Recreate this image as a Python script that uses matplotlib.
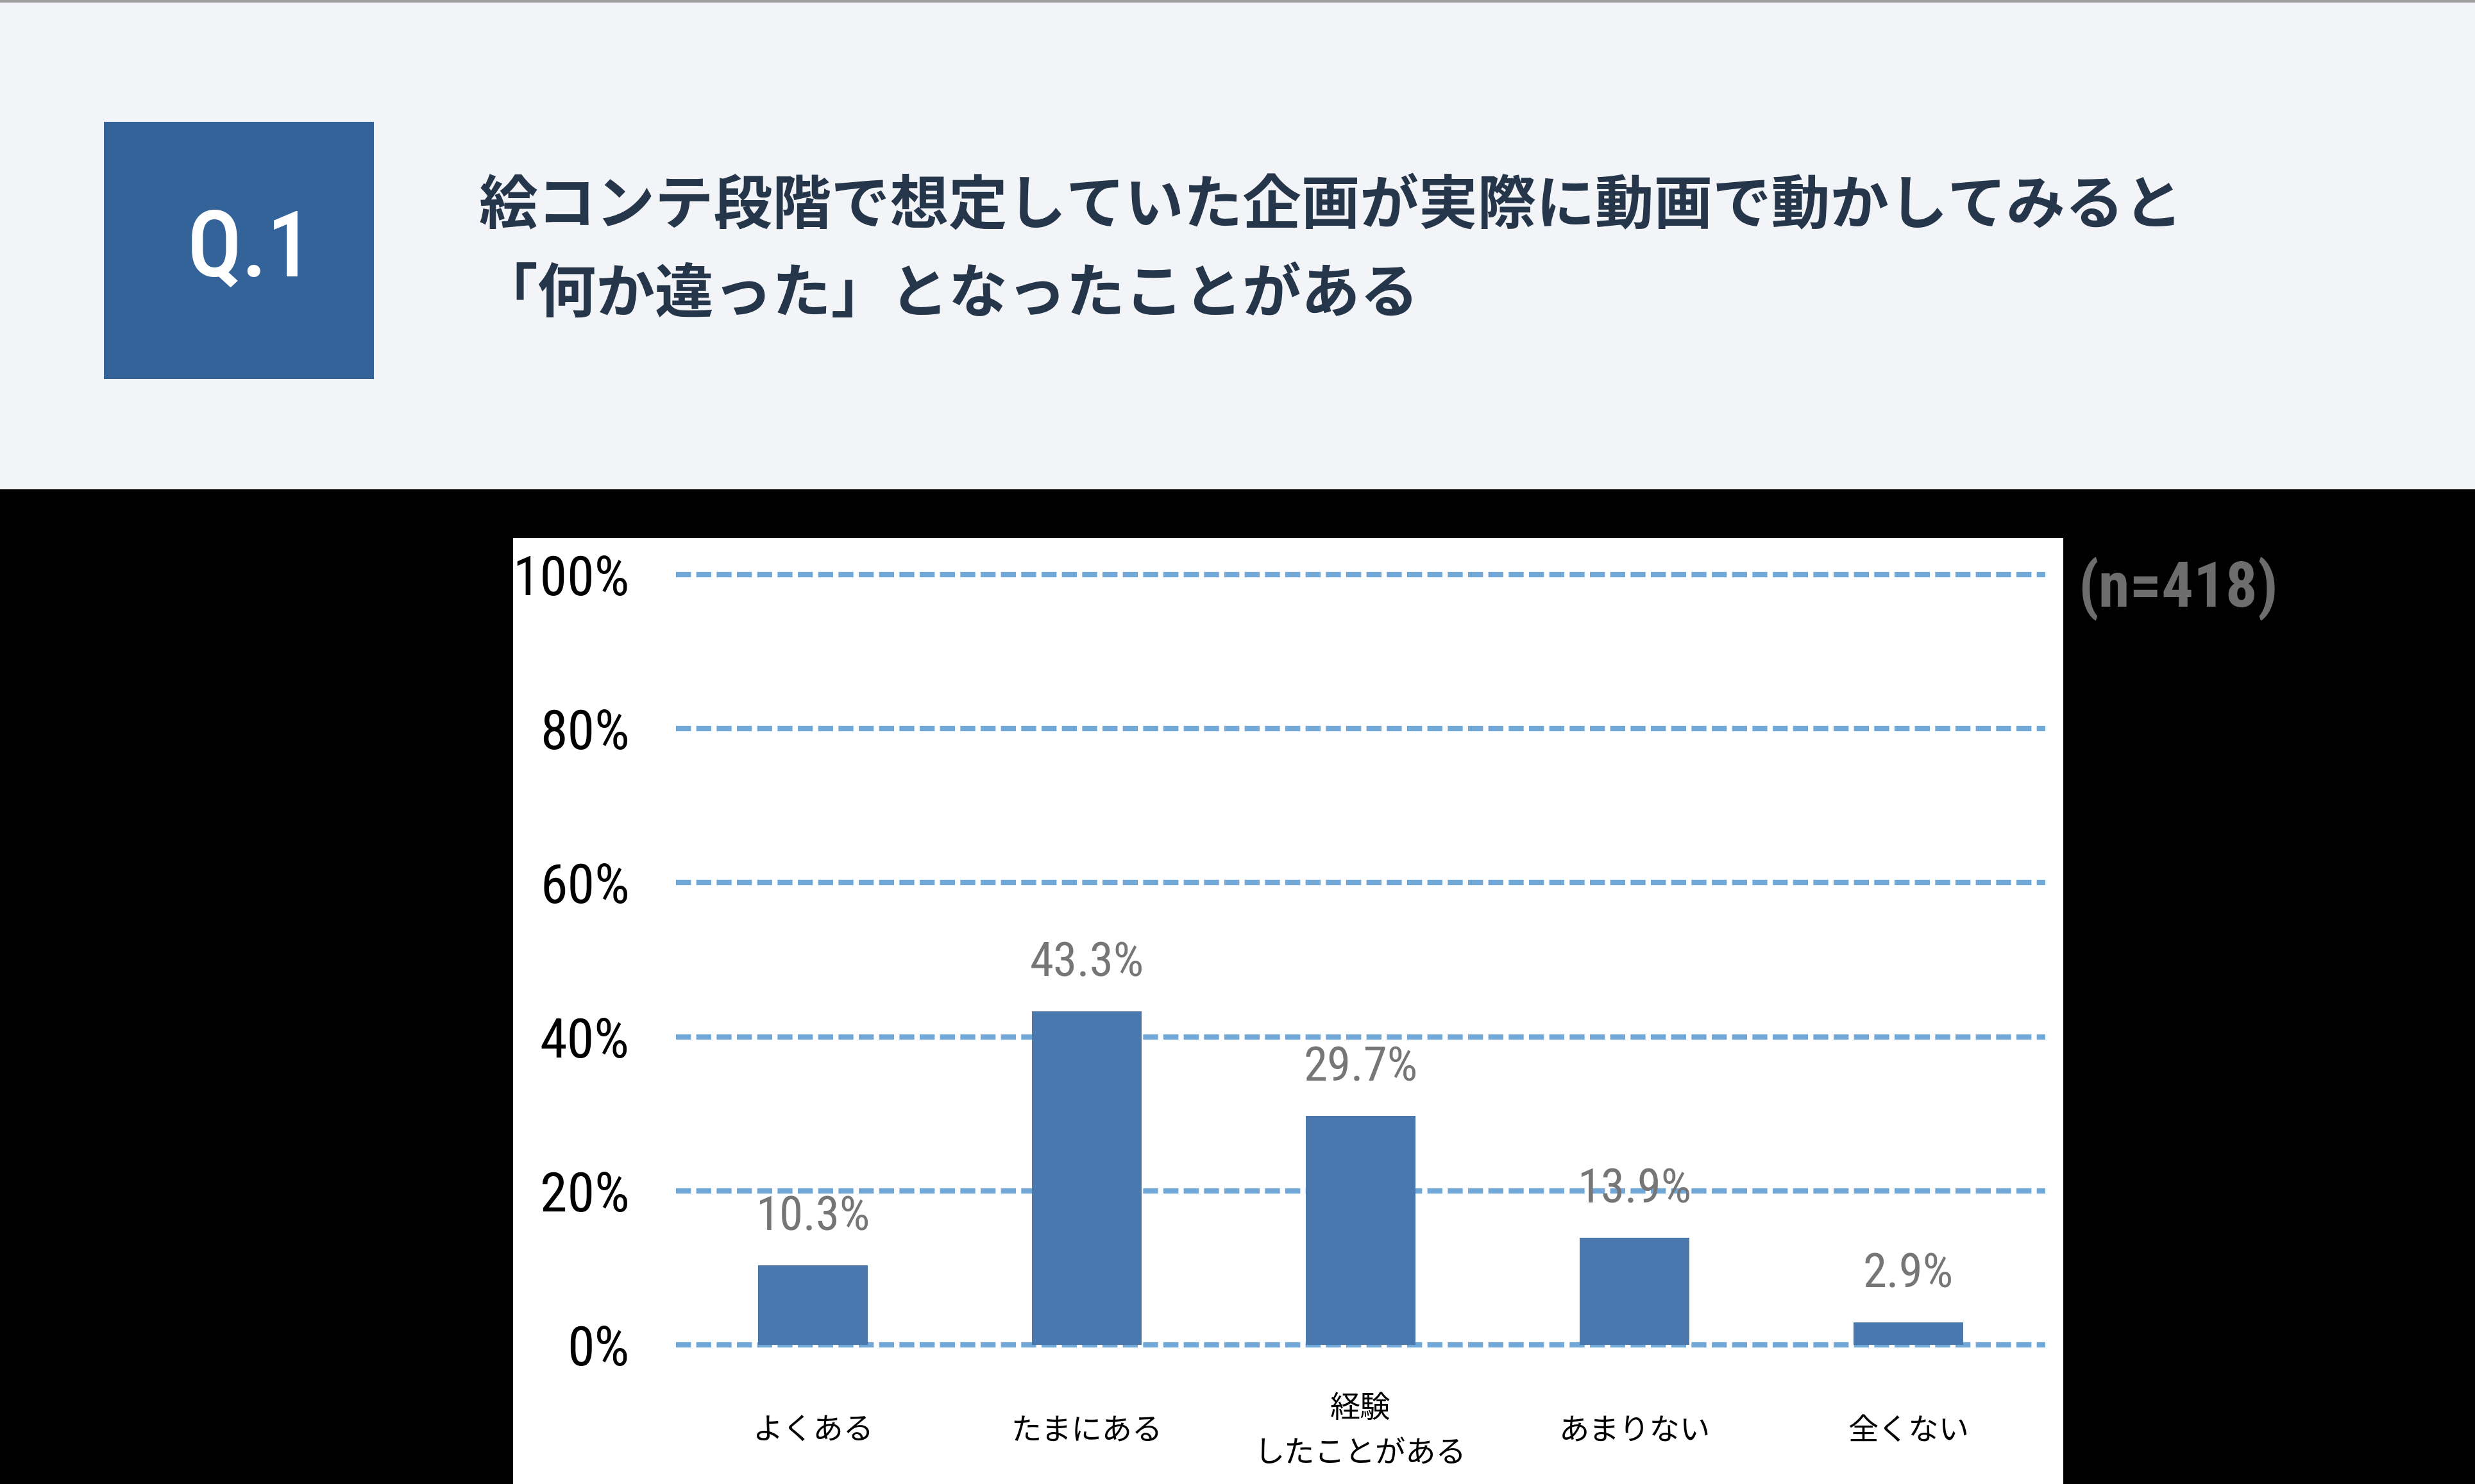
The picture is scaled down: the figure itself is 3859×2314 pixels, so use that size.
import matplotlib
matplotlib.use("Agg")
import matplotlib.pyplot as plt
from matplotlib import font_manager
from matplotlib.patches import Rectangle

# データ
categories = ["よくある", "たまにある", "経験\nしたことがある", "あまりない", "全くない"]
values = [10.3, 43.3, 29.7, 13.9, 2.9]
yticks = [0, 20, 40, 60, 80, 100]
title_lines = ["絵コンテ段階で想定していた企画が実際に動画で動かしてみると",
               "「何か違った」となったことがある"]
q_label = "Q.1"
n_label = "(n=418)"

installed = {f.name for f in font_manager.fontManager.ttflist}


def pick(*names):
    for name in names:
        if name in installed:
            return name
    return "DejaVu Sans"


narrow = pick("Liberation Sans Narrow", "Roboto Condensed", "Liberation Sans")
cjk = pick("Noto Sans CJK JP", "Noto Sans CJK SC")

W, H = 3859, 2314
fig = plt.figure(figsize=(W / 100, H / 100), dpi=100, facecolor="black")

# ヘッダー部分
fig.patches.append(Rectangle((0, 1 - 763 / H), 1, 763 / H, transform=fig.transFigure,
                             facecolor="#f2f4f8", edgecolor="none", zorder=0))
fig.patches.append(Rectangle((0, 1 - 4 / H), 1, 4 / H, transform=fig.transFigure,
                             facecolor="#a0a0a0", edgecolor="none", zorder=1))
fig.patches.append(Rectangle((162 / W, 1 - 591 / H), 421 / W, 401 / H, transform=fig.transFigure,
                             facecolor="#336399", edgecolor="none", zorder=1))
fig.text(390 / W, 1 - 392 / H, q_label, color="white", fontsize=102, family=narrow,
         fontweight="medium", ha="center", va="center", zorder=3)
fig.text(746 / W, 1 - 322 / H, title_lines[0], color="#26364a", fontsize=66,
         fontweight="bold", family=[cjk, "DejaVu Sans"], ha="left", va="center", zorder=3)
fig.text(746 / W, 1 - 460 / H, title_lines[1], color="#26364a", fontsize=66,
         fontweight="bold", family=[cjk, "DejaVu Sans"], ha="left", va="center", zorder=3)

# グラフの白い背景
fig.patches.append(Rectangle((800 / W, 0), 2417 / W, (H - 839) / H, transform=fig.transFigure,
                             facecolor="white", edgecolor="none", zorder=0))
fig.text(3396 / W, 1 - 918 / H, n_label, color="#6d6d6d", fontsize=71, fontweight="bold",
         family=narrow, ha="center", va="center", zorder=3)

ax = fig.add_axes([1054 / W, 193 / H, 2135 / W, 1249 / H])
ax.set_zorder(5)
ax.set_facecolor("none")
x = range(len(categories))
ax.bar(x, values, width=0.4, color="#4a78ae", zorder=2)
ax.set_xlim(-0.5, len(categories) - 0.5)
ax.set_ylim(-2, 102)
ax.set_yticks(yticks)
ax.set_yticklabels([f"{t}%" for t in yticks], family=narrow, fontsize=62, color="black")
ax.set_xticks(list(x))
ax.set_xticklabels(categories, family=[cjk, "DejaVu Sans"], fontsize=34, color="black",
                   linespacing=1.6)
for lab in ax.get_xticklabels():
    lab.set_va("center")
ax.tick_params(axis="x", length=0, pad=80)
ax.tick_params(axis="y", length=0, pad=52)
ax.grid(axis="y", color="#72a8d8", linewidth=6, linestyle=(0, (2.8, 1.0)), zorder=1)
ax.grid(axis="x", visible=False)
ax.set_axisbelow(True)
for s in ax.spines.values():
    s.set_visible(False)

for xi, v in zip(x, values):
    ax.annotate(f"{v}%", (xi, v), xytext=(0, 54), textcoords="offset points",
                ha="center", va="center", fontsize=54, family=narrow, color="#767676", zorder=3)

fig.savefig("out.png", dpi=100, facecolor="black")
